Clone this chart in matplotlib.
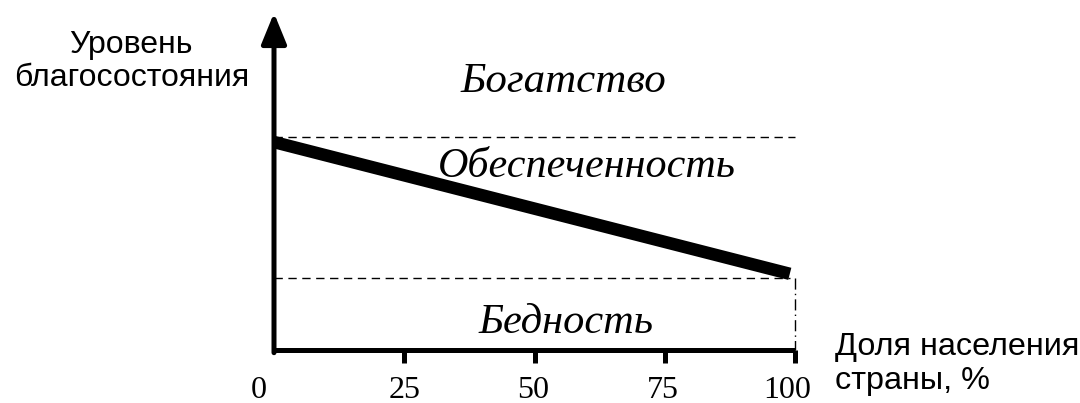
import matplotlib
matplotlib.use("Agg")
import matplotlib.pyplot as plt
from matplotlib.transforms import blended_transform_factory

# data
x_ticks = [25, 50, 75, 100]
tick_labels = ["25", "50", "75", "100"]
line_x = [0, 99]
line_y = [61.7, 22.6]
rich_level = 63.2
poor_level = 21.4
zones = ["Богатство", "Обеспеченность", "Бедность"]

W, H = 1080, 403
fig = plt.figure(figsize=(W / 100, H / 100), dpi=100)
x0, x1 = 274, 795
yb, yt = 350, 13
ax = fig.add_axes([x0 / W, (H - yb) / H, (x1 - x0) / W, (yb - yt) / H])
ax.set_xlim(0, 100)
ax.set_ylim(0, 100)
ax.axis("off")

serif = "Liberation Serif"
sans = "Liberation Sans"

# axes
ax.plot([0, 100], [0, 0], color="black", lw=3.6, solid_capstyle="butt", clip_on=False)
ax.annotate("", xy=(0, 100), xytext=(0, -0.8),
            arrowprops=dict(arrowstyle="-|>,head_length=1.1,head_width=0.45", lw=3.6,
                            color="black", shrinkA=0, shrinkB=0, mutation_scale=17),
            annotation_clip=False)
# ticks
for t in x_ticks:
    ax.plot([t, t], [0, -13 / 3.37], color="black", lw=3.6, solid_capstyle="butt", clip_on=False)

trans = blended_transform_factory(ax.transData, ax.transAxes)
label_shift = [0, -0.3, -0.4, -1.5]
ax.text(-3, -40 / 337, "0", transform=trans, ha="center", va="center",
        fontsize=23, family=serif)
for t, lab, s in zip(x_ticks, tick_labels, label_shift):
    ax.text(t + s, -40 / 337, lab, transform=trans, ha="center", va="center",
            fontsize=23, family=serif)

# dashed levels
ax.plot([0, 100], [rich_level, rich_level], color="black", lw=1, ls=(0, (6, 4)), clip_on=False)
ax.plot([0, 99], [poor_level, poor_level], color="black", lw=1, ls=(0, (6, 4)), clip_on=False)
ax.plot([100, 100], [poor_level, 0], color="black", lw=1, ls=(0, (8, 3, 1, 3)), clip_on=False)

# thick line
ax.plot(line_x, line_y, color="black", lw=9, solid_capstyle="butt", clip_on=False)

# zone labels
ax.text(55.5, 79.5, zones[0], ha="center", va="center", fontsize=31, style="italic", family=serif)
ax.text(60.0, 54.5, zones[1], ha="center", va="center", fontsize=30.3, style="italic", family=serif)
ax.text(56.0, 8.0, zones[2], ha="center", va="center", fontsize=30.5, style="italic", family=serif)

# axis titles
fig.text(131 / W, 1 - 45 / H, "Уровень", ha="center", va="center", fontsize=23, family=sans)
fig.text(132 / W, 1 - 78 / H, "благосостояния", ha="center", va="center", fontsize=23, family=sans)
fig.text(835 / W, 1 - 347 / H, "Доля населения", ha="left", va="center", fontsize=23.3, family=sans)
fig.text(835 / W, 1 - 381 / H, "страны, %", ha="left", va="center", fontsize=23.3, family=sans)

fig.savefig("out.png", dpi=100)
